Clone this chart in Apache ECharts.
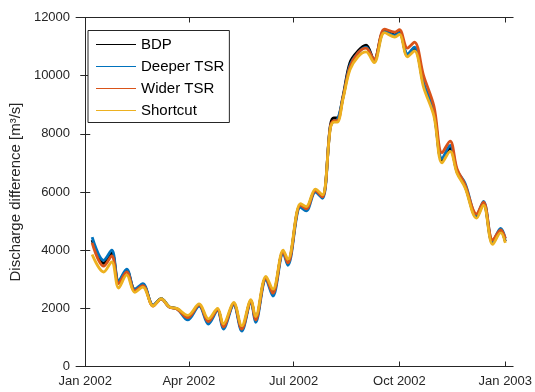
<!DOCTYPE html>
<html>
<head>
<meta charset="utf-8">
<script src="https://cdn.jsdelivr.net/npm/echarts@6/dist/echarts.min.js"></script>
<style>
  html, body { margin: 0; padding: 0; background: #fff; }
  #chart { width: 535px; height: 392px; }
</style>
</head>
<body>
<div id="chart"></div>
<script>
// Sample dates (2002) shared by all four runs
const dates = [
  '2002-01-07','2002-01-17','2002-01-24','2002-01-30','2002-02-06','2002-02-13','2002-02-20',
  '2002-03-01','2002-03-08','2002-03-15','2002-03-22','2002-03-31','2002-04-10','2002-04-18',
  '2002-04-26','2002-05-01','2002-05-10','2002-05-17','2002-05-25','2002-05-29','2002-06-07',
  '2002-06-13','2002-06-22','2002-06-26','2002-07-07','2002-07-12','2002-07-20','2002-07-26',
  '2002-08-02','2002-08-05','2002-08-08','2002-08-13','2002-08-19','2002-08-26','2002-09-02',
  '2002-09-09','2002-09-18','2002-09-27','2002-10-01','2002-10-08','2002-10-14','2002-10-22',
  '2002-10-31','2002-11-07','2002-11-14','2002-11-20','2002-11-27','2002-12-07','2002-12-13',
  '2002-12-21','2002-12-28','2003-01-01'
];

// Discharge difference [m3/s]
const bdp = [
  4350,3550,3900,2900,3300,2650,2800,
  2100,2330,2050,1980,1700,2100,1560,
  1950,1380,2150,1300,2250,1620,3050,
  2550,3950,3600,5550,5450,6050,5850,
  8300,8550,8550,9300,10450,10850,11050,
  10550,11550,11400,11500,10700,10950,9700,
  8700,7100,7500,6700,6200,5150,5600,
  4250,4650,4300
];
const deeperTSR = [
  4450,3650,4000,2950,3350,2650,2850,
  2100,2330,2050,1980,1600,2080,1460,
  1920,1290,2120,1220,2220,1520,3000,
  2420,3900,3480,5480,5350,6000,5780,
  8250,8450,8480,9250,10350,10780,10980,
  10500,11520,11380,11480,10750,10980,9750,
  8750,7150,7600,6750,6300,5200,5680,
  4300,4750,4400
];
const widerTSR = [
  4250,3450,3800,2850,3250,2600,2780,
  2080,2320,2040,1970,1680,2120,1540,
  1960,1360,2160,1290,2260,1600,3050,
  2520,3950,3560,5550,5420,6050,5830,
  8250,8450,8450,9250,10300,10780,10950,
  10550,11600,11500,11580,10950,11150,10000,
  8950,7350,7750,6800,6250,5250,5650,
  4350,4700,4400
];
const shortcut = [
  3850,3250,3600,2700,3150,2550,2730,
  2080,2330,2050,1990,1760,2150,1640,
  2000,1460,2200,1400,2300,1720,3100,
  2650,4000,3680,5600,5500,6100,5900,
  8200,8400,8400,9200,10200,10650,10820,
  10450,11480,11330,11420,10650,10850,9600,
  8600,7000,7400,6650,6150,5100,5550,
  4200,4600,4250
];

const seriesNames = ['BDP', 'Deeper TSR', 'Wider TSR', 'Shortcut'];
const seriesColors = ['#000000', '#0072BD', '#D95319', '#EDB120'];
const seriesValues = [bdp, deeperTSR, widerTSR, shortcut];

// Axis ticks
const xTickDates = ['2002-01-01', '2002-04-01', '2002-07-01', '2002-10-01', '2003-01-01'];
const xTickLabels = ['Jan 2002', 'Apr 2002', 'Jul 2002', 'Oct 2002', 'Jan 2003'];

// Dates become day offsets from 1 Jan 2002 on a linear axis
const DAY = 86400000;
const origin = Date.UTC(2002, 0, 1);
function dayOf(s) {
  const p = s.split('-').map(Number);
  return Math.round((Date.UTC(p[0], p[1] - 1, p[2]) - origin) / DAY);
}
const xTickValues = xTickDates.map(dayOf);
const xMin = -8;
const xMax = 371.8;

const axisColor = '#262626';
const font = 'Arial, "Liberation Sans", Helvetica, sans-serif';

const series = seriesNames.map((name, i) => ({
  name: name,
  type: 'line',
  symbol: 'none',
  smooth: 0.35,
  data: dates.map((d, j) => [dayOf(d), seriesValues[i][j]]),
  lineStyle: { color: seriesColors[i], width: 2.8 },
  itemStyle: { color: seriesColors[i] },
  z: 2 + i
}));

const xAxisBase = {
  type: 'value',
  min: xMin,
  max: xMax,
  splitLine: { show: false },
  axisLine: { show: true, onZero: false, lineStyle: { color: axisColor, width: 1 } },
  axisTick: { show: true, inside: true, length: 5, customValues: xTickValues,
              lineStyle: { color: axisColor } }
};

const chart = echarts.init(document.getElementById('chart'), null, { renderer: 'canvas' });
chart.setOption({
  animation: false,
  backgroundColor: '#ffffff',
  grid: { left: 73, right: 18, top: 17.5, bottom: 25.5, containLabel: false },
  legend: {
    data: seriesNames,
    orient: 'vertical',
    left: 88,
    top: 30.5,
    icon: 'rect',
    itemWidth: 40,
    itemHeight: 1.2,
    itemGap: 6,
    itemTextGap: 4,
    padding: [6, 5, 4, 8],
    borderColor: axisColor,
    borderWidth: 1,
    backgroundColor: '#ffffff',
    textStyle: { fontFamily: font, fontSize: 15, lineHeight: 16, color: '#000000' }
  },
  xAxis: [
    Object.assign({}, xAxisBase, {
      position: 'bottom',
      axisLabel: {
        customValues: xTickValues,
        formatter: function (v) {
          const k = xTickValues.indexOf(Math.round(v));
          return k >= 0 ? xTickLabels[k] : '';
        },
        color: axisColor, fontFamily: font, fontSize: 13, margin: 8,
        hideOverlap: false
      }
    }),
    Object.assign({}, xAxisBase, {
      position: 'top',
      axisLabel: { show: false }
    })
  ],
  yAxis: [
    {
      type: 'value',
      min: 0, max: 12000, interval: 2000,
      position: 'left',
      splitLine: { show: false },
      axisLine: { show: true, lineStyle: { color: axisColor, width: 1 } },
      axisTick: { show: true, inside: true, length: 5, lineStyle: { color: axisColor } },
      axisLabel: {
        color: axisColor, fontFamily: font, fontSize: 13, margin: 6,
        formatter: function (v) { return String(v); }
      },
      name: 'Discharge difference [m³/s]',
      nameLocation: 'middle',
      nameGap: 43,
      nameTextStyle: { fontFamily: font, fontSize: 15, color: axisColor }
    },
    {
      type: 'value',
      min: 0, max: 12000, interval: 2000,
      position: 'right',
      splitLine: { show: false },
      axisLine: { show: true, lineStyle: { color: axisColor, width: 1 } },
      axisTick: { show: true, inside: true, length: 5, lineStyle: { color: axisColor } },
      axisLabel: { show: false }
    }
  ],
  series: series
});
</script>
</body>
</html>
